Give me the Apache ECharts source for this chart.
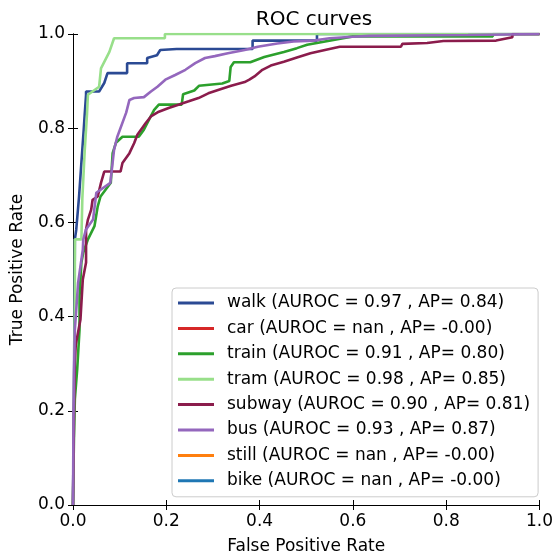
<!DOCTYPE html>
<html>
<head>
<meta charset="utf-8">
<script src="https://cdn.jsdelivr.net/npm/echarts@6/dist/echarts.min.js"></script>
<style>
  html, body { margin: 0; padding: 0; background: #fff; }
  #chart { width: 556px; height: 560px; }
</style>
</head>
<body>
<div id="chart"></div>
<script>
// Class names, scores and colours used for the legend entries
const classNames = ['walk', 'car', 'train', 'tram', 'subway', 'bus', 'still', 'bike'];
const aurocScores = ['0.97', 'nan', '0.91', '0.98', '0.90', '0.93', 'nan', 'nan'];
const apScores = ['0.84', '-0.00', '0.80', '0.85', '0.81', '0.87', '-0.00', '-0.00'];
const classColors = ['#2b4a94', '#d62728', '#2ca02c', '#98df8a', '#8b1c4c', '#9467bd', '#ff7f0e', '#1f77b4'];

// Axis ticks
const tickValues = [0.0, 0.2, 0.4, 0.6, 0.8, 1.0];

// ROC curves as [false positive rate, true positive rate] pairs
const walkRoc = [
  [0, 0], [0.002, 0.225], [0.004, 0.564], [0.007, 0.585], [0.013, 0.655], [0.018, 0.727],
  [0.023, 0.797], [0.025, 0.828], [0.028, 0.871], [0.028, 0.878], [0.056, 0.878],
  [0.067, 0.896], [0.074, 0.917], [0.116, 0.917], [0.116, 0.938], [0.159, 0.938],
  [0.159, 0.949], [0.18, 0.955], [0.187, 0.966], [0.222, 0.968], [0.385, 0.968],
  [0.385, 0.986], [0.523, 0.986], [0.523, 1.0], [1.0, 1.0]
];
const carRoc = [];
const trainRoc = [
  [0, 0], [0.002, 0.14], [0.004, 0.225], [0.009, 0.288], [0.014, 0.373], [0.014, 0.443],
  [0.018, 0.515], [0.022, 0.536], [0.032, 0.564], [0.046, 0.592], [0.053, 0.634],
  [0.059, 0.655], [0.081, 0.684], [0.085, 0.747], [0.092, 0.769], [0.106, 0.782],
  [0.141, 0.782], [0.152, 0.797], [0.163, 0.818], [0.174, 0.839], [0.184, 0.85],
  [0.233, 0.85], [0.236, 0.872], [0.26, 0.88], [0.27, 0.89], [0.32, 0.895],
  [0.335, 0.9], [0.338, 0.93], [0.345, 0.94], [0.38, 0.94], [0.41, 0.951],
  [0.452, 0.962], [0.48, 0.97], [0.502, 0.977], [0.6, 0.995], [0.9, 0.995],
  [0.9, 1.0], [1.0, 1.0]
];
const tramRoc = [
  [0, 0], [0.002, 0.2], [0.004, 0.45], [0.004, 0.564], [0.018, 0.564], [0.02, 0.65],
  [0.025, 0.75], [0.03, 0.83], [0.032, 0.871], [0.056, 0.888], [0.06, 0.927],
  [0.078, 0.962], [0.088, 0.991], [0.197, 0.991], [0.197, 1.0], [1.0, 1.0]
];
const subwayRoc = [
  [0, 0], [0.002, 0.182], [0.004, 0.305], [0.006, 0.341], [0.016, 0.394], [0.021, 0.479],
  [0.028, 0.515], [0.028, 0.585], [0.032, 0.606], [0.039, 0.627], [0.042, 0.648],
  [0.053, 0.655], [0.06, 0.684], [0.067, 0.708], [0.102, 0.708], [0.106, 0.726],
  [0.121, 0.747], [0.131, 0.768], [0.138, 0.786], [0.156, 0.811], [0.167, 0.825],
  [0.184, 0.835], [0.205, 0.843], [0.226, 0.85], [0.248, 0.857], [0.269, 0.864],
  [0.29, 0.874], [0.311, 0.881], [0.339, 0.89], [0.368, 0.898], [0.378, 0.903],
  [0.389, 0.91], [0.406, 0.924], [0.424, 0.933], [0.452, 0.941], [0.48, 0.95],
  [0.509, 0.959], [0.54, 0.966], [0.572, 0.973], [0.703, 0.973], [0.706, 0.979],
  [0.759, 0.981], [0.794, 0.985], [0.907, 0.986], [0.91, 0.99], [0.942, 0.993],
  [0.942, 1.0], [1.0, 1.0]
];
const busRoc = [
  [0, 0], [0.001, 0.182], [0.002, 0.267], [0.004, 0.373], [0.011, 0.472], [0.021, 0.542],
  [0.022, 0.564], [0.028, 0.585], [0.043, 0.606], [0.05, 0.663], [0.08, 0.684],
  [0.088, 0.754], [0.095, 0.782], [0.114, 0.833], [0.121, 0.86], [0.131, 0.864],
  [0.152, 0.866], [0.167, 0.878], [0.181, 0.888], [0.198, 0.903], [0.219, 0.913],
  [0.241, 0.924], [0.262, 0.938], [0.283, 0.949], [0.304, 0.953], [0.332, 0.959],
  [0.368, 0.966], [0.396, 0.973], [0.438, 0.98], [0.473, 0.984], [0.516, 0.986],
  [0.55, 0.991], [0.6, 0.994], [0.635, 0.996], [0.847, 0.998], [1.0, 1.0]
];
const stillRoc = [];
const bikeRoc = [];

const rocCurves = [walkRoc, carRoc, trainRoc, tramRoc, subwayRoc, busRoc, stillRoc, bikeRoc];

const FONT = 'DejaVu Sans';
const legendLabels = classNames.map((c, i) =>
  c + ' (AUROC = ' + aurocScores[i] + ' , AP= ' + apScores[i] + ')');

const series = rocCurves.map((curve, i) => ({
  name: legendLabels[i],
  type: 'line',
  data: curve,
  showSymbol: false,
  symbol: 'none',
  lineStyle: { color: classColors[i], width: 2.6 },
  itemStyle: { color: classColors[i] },
  animation: false,
  z: 2 + i
}));

const axisCommon = {
  type: 'value',
  min: 0,
  max: 1,
  interval: 0.2,
  axisLine: { show: true, lineStyle: { color: '#000', width: 1 } },
  axisTick: { show: true, inside: false, length: 5, lineStyle: { color: '#000', width: 1 } },
  splitLine: { show: false }
};

const tickLabel = v => tickValues.includes(+v.toFixed(1)) ? v.toFixed(1) : '';

const chart = echarts.init(document.getElementById('chart'), null, { renderer: 'canvas' });
chart.setOption({
  backgroundColor: '#fff',
  animation: false,
  title: {
    text: 'ROC curves',
    left: 309,
    top: 5,
    textAlign: 'center',
    textStyle: { fontFamily: FONT, fontSize: 20, fontWeight: 'normal', color: '#000' }
  },
  grid: { left: 73, top: 34, width: 472.5, height: 472, containLabel: false },
  legend: {
    orient: 'vertical',
    left: 172,
    top: 288,
    padding: [6, 8, 7, 6],
    itemGap: 7.4,
    itemWidth: 36,
    itemHeight: 3,
    icon: 'rect',
    backgroundColor: 'rgba(255,255,255,0.8)',
    borderColor: '#cccccc',
    borderWidth: 1,
    borderRadius: 4,
    selectedMode: false,
    textStyle: { fontFamily: FONT, fontSize: 17, color: '#000', lineHeight: 18, padding: [0, 0, 0, 8] },
    data: legendLabels
  },
  xAxis: [
    Object.assign({}, axisCommon, {
      position: 'bottom',
      name: 'False Positive Rate',
      nameLocation: 'middle',
      nameGap: 33,
      nameTextStyle: { fontFamily: FONT, fontSize: 17, color: '#000' },
      axisLabel: { fontFamily: FONT, fontSize: 17, color: '#000', margin: 8, formatter: tickLabel }
    }),
    Object.assign({}, axisCommon, { position: 'top', axisLabel: { show: false } })
  ],
  yAxis: [
    Object.assign({}, axisCommon, {
      position: 'left',
      name: 'True Positive Rate',
      nameLocation: 'middle',
      nameGap: 47,
      nameTextStyle: { fontFamily: FONT, fontSize: 17, color: '#000' },
      axisLabel: { fontFamily: FONT, fontSize: 17, color: '#000', margin: 8, formatter: tickLabel }
    }),
    Object.assign({}, axisCommon, { position: 'right', axisLabel: { show: false } })
  ],
  series: series
});
</script>
</body>
</html>
